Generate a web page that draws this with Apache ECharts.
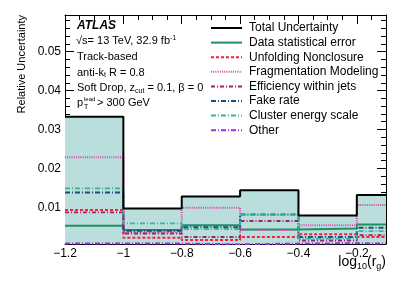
<!DOCTYPE html>
<html><head><meta charset="utf-8">
<script src="https://cdn.jsdelivr.net/npm/echarts@6/dist/echarts.min.js"></script>
<style>html,body{margin:0;padding:0;background:#fff}#c{width:407px;height:292px}</style>
</head><body><div id="c"></div>
<script>
// Bin edges in log10(r_g)
const edges = [-1.2, -1.0, -0.8, -0.6, -0.4, -0.2, -0.1];
const totalUnc      = [0.0333, 0.0097, 0.0128, 0.0144, 0.0079, 0.0132];
const dataStat      = [0.0053, 0.0042, 0.0054, 0.0043, 0.0046, 0.0056];
const unfolding     = [0.0093, 0.0022, 0.0016, 0.0024, 0.0031, 0.0024];
const fragmentation = [0.0229, 0.0036, 0.0099, 0.0042, 0.0054, 0.0106];
const efficiency    = [0.0087, 0.0033, 0.0024, 0.0065, 0.0015, 0.0029];
const fakeRate      = [0.0138, 0.0040, 0.0049, 0.0082, 0.0024, 0.0048];
const clusterScale  = [0.0149, 0.0059, 0.0044, 0.0081, 0.0020, 0.0039];
const other         = [0.0007, 0.0007, 0.0005, 0.0007, 0.0008, 0.0007];

const xMajor = [-1.2, -1.0, -0.8, -0.6, -0.4, -0.2];
const yMajor = [0.01, 0.02, 0.03, 0.04, 0.05];

const xMin = -1.2, xMax = -0.1, yMin = 0.0006, yMax = 0.0594;
const xMinor = []; for (let k = 0; k <= 22; k++) xMinor.push(+(-1.2 + 0.05 * k).toFixed(2));
const yMinor = []; for (let k = 1; k <= 29; k++) yMinor.push(+(0.002 * k).toFixed(3));

function stepData(vals) {
  return edges.map((x, i) => [x, vals[Math.min(i, vals.length - 1)]]);
}
const FONT = 'Liberation Sans, Arial, sans-serif';
const grid = {left: 65, right: 21, top: 15, bottom: 48};

function xAx(gi, pos, ticks, len, showLine, labels) {
  return {
    type: 'value', gridIndex: gi, position: pos, min: xMin, max: xMax,
    axisLine: {show: showLine, onZero: false, lineStyle: {color: '#000', width: 1}},
    axisTick: {show: true, inside: true, length: len, customValues: ticks, lineStyle: {color: '#000', width: 1}},
    axisLabel: labels ? {show: true, customValues: xMajor, margin: 4, color: '#000', fontFamily: FONT, fontSize: 12,
      formatter: v => String(Math.round(v * 10) / 10).replace('-', '\u2212')} : {show: false},
    splitLine: {show: false}
  };
}
function yAx(gi, pos, ticks, len, showLine, labels) {
  return {
    type: 'value', gridIndex: gi, position: pos, min: yMin, max: yMax,
    axisLine: {show: showLine, onZero: false, lineStyle: {color: '#000', width: 1}},
    axisTick: {show: true, inside: true, length: len, customValues: ticks, lineStyle: {color: '#000', width: 1}},
    axisLabel: labels ? {show: true, customValues: yMajor, margin: 4, color: '#000', fontFamily: FONT, fontSize: 12,
      formatter: v => (Math.round(v * 100) / 100).toFixed(2)} : {show: false},
    splitLine: {show: false}
  };
}

function lineSeries(name, vals, color, type, width, z) {
  return {
    name, type: 'line', step: 'end', xAxisIndex: 0, yAxisIndex: 0,
    data: stepData(vals), symbol: 'none', z: z || 3, animation: false,
    lineStyle: {color, width: width || 1.6, type: type || 'solid'},
    itemStyle: {color}
  };
}

const chart = echarts.init(document.getElementById('c'), null, {renderer: 'canvas'});
chart.setOption({
  animation: false,
  grid: [grid, grid],
  xAxis: [
    xAx(0, 'bottom', xMajor, 9, true, true),
    xAx(0, 'top', xMajor, 9, true, false),
    xAx(1, 'bottom', xMinor, 5, false, false),
    xAx(1, 'top', xMinor, 5, false, false)
  ],
  yAxis: [
    yAx(0, 'left', yMajor, 9, true, true),
    yAx(0, 'right', yMajor, 9, true, false),
    yAx(1, 'left', yMinor, 5, false, false),
    yAx(1, 'right', yMinor, 5, false, false)
  ],
  legend: {
    orient: 'vertical', left: 210, top: 22, padding: 0, itemWidth: 31, itemHeight: 8, itemGap: 2.6,
    itemStyle: {opacity: 0},
    textStyle: {fontFamily: FONT, fontSize: 12, color: '#000', lineHeight: 12, padding: [0, 0, 0, 2]},
    data: ['Total Uncertainty', 'Data statistical error', 'Unfolding Nonclosure', 'Fragmentation Modeling',
           'Efficiency within jets', 'Fake rate', 'Cluster energy scale', 'Other']
  },
  series: [
    {
      name: 'band', type: 'line', step: 'end', xAxisIndex: 0, yAxisIndex: 0, data: stepData(totalUnc),
      symbol: 'none', z: 1, lineStyle: {width: 0}, areaStyle: {color: '#b9dedb', opacity: 1, origin: 'start'}
    },
    lineSeries('Data statistical error', dataStat, '#1e9060', 'solid', 2),
    lineSeries('Unfolding Nonclosure', unfolding, '#ff1a40', [3, 2], 2),
    lineSeries('Fragmentation Modeling', fragmentation, '#d54aa6', [1, 1.2], 2),
    lineSeries('Efficiency within jets', efficiency, '#a0206e', [4, 2, 1, 2], 1.8),
    lineSeries('Fake rate', fakeRate, '#1d4f7c', [5, 2, 1, 2], 2),
    lineSeries('Cluster energy scale', clusterScale, '#3fb0a0', [5, 2, 1, 2], 1.8),
    lineSeries('Other', other, '#9a30e0', [5, 2, 1, 2], 2),
    lineSeries('Total Uncertainty', totalUnc, '#000', 'solid', 2, 5)
  ],
  graphic: [
    {type: 'text', x: 22, y: 15, rotation: Math.PI / 2,
      style: {text: 'Relative Uncertainty', font: '11px ' + FONT, fill: '#000', align: 'right', verticalAlign: 'middle'}},
    {type: 'text', x: 386, y: 262,
      style: {text: 'log{s|10}(r{s|g})', align: 'right', verticalAlign: 'middle', fill: '#000',
        font: '14px ' + FONT,
        rich: {s: {fontSize: 9, fontFamily: FONT, verticalAlign: 'bottom', padding: [9, 0, 0, 0]}}}},
    {type: 'text', x: 77, y: 26,
      style: {text: 'ATLAS', font: 'italic bold 12px ' + FONT, fill: '#000', verticalAlign: 'middle'}},
    {type: 'text', x: 76, y: 41,
      style: {text: '\u221As= 13 TeV, 32.9 fb{u|-1}', font: '11px ' + FONT, fill: '#000', verticalAlign: 'middle',
        rich: {u: {fontSize: 7, fontFamily: FONT, verticalAlign: 'top', padding: [0, 0, 6, 0]}}}},
    {type: 'text', x: 77, y: 57,
      style: {text: 'Track-based', font: '11px ' + FONT, fill: '#000', verticalAlign: 'middle'}},
    {type: 'text', x: 77, y: 72.5,
      style: {text: 'anti-k{d|t} R = 0.8', font: '11px ' + FONT, fill: '#000', verticalAlign: 'middle',
        rich: {d: {fontSize: 7, fontFamily: FONT, verticalAlign: 'bottom', padding: [6, 0, 0, 0]}}}},
    {type: 'text', x: 77, y: 88,
      style: {text: 'Soft Drop, z{d|cut} = 0.1, \u03B2 = 0', font: '11px ' + FONT, fill: '#000', verticalAlign: 'middle',
        rich: {d: {fontSize: 7, fontFamily: FONT, verticalAlign: 'bottom', padding: [6, 0, 0, 0]}}}},
    {type: 'text', x: 77, y: 103,
      style: {text: 'p', font: '11px ' + FONT, fill: '#000', verticalAlign: 'middle'}},
    {type: 'text', x: 84, y: 99,
      style: {text: 'lead', font: '6px ' + FONT, fill: '#000', verticalAlign: 'middle'}},
    {type: 'text', x: 84, y: 107,
      style: {text: 'T', font: '7px ' + FONT, fill: '#000', verticalAlign: 'middle'}},
    {type: 'text', x: 97, y: 103,
      style: {text: '> 300 GeV', font: '11px ' + FONT, fill: '#000', verticalAlign: 'middle'}}
  ]
});
</script></body></html>
